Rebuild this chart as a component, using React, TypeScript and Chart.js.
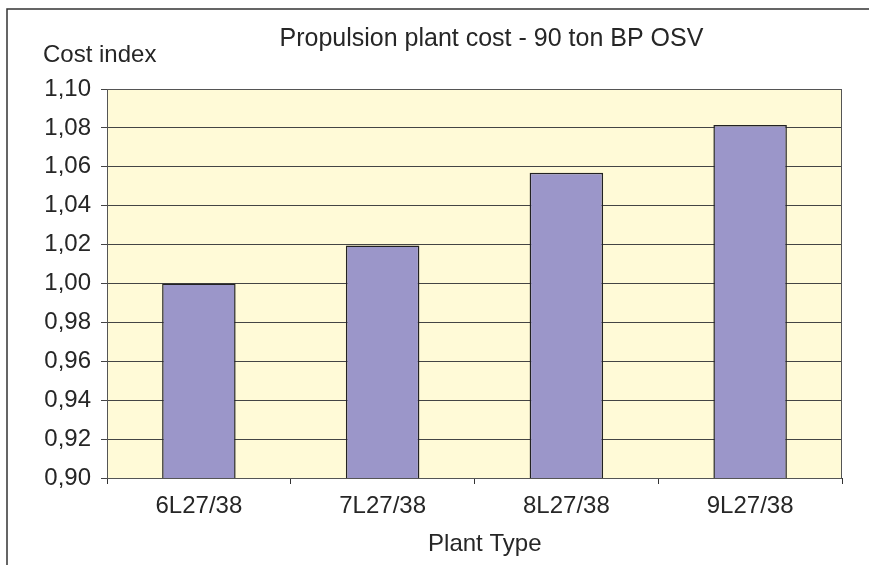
import React, { useEffect, useRef } from "react";
import { Chart, registerables } from "chart.js";

Chart.register(...registerables);

const categories = ["6L27/38", "7L27/38", "8L27/38", "9L27/38"];
const costIndex = [1.0, 1.0195, 1.057, 1.0815];
const chartTitle = "Propulsion plant cost - 90 ton BP OSV";
const yAxisTitle = "Cost index";
const xAxisTitle = "Plant Type";

const FONT = "'Liberation Sans', Arial, sans-serif";
const TEXT = "#262626";

const decorPlugin = {
  id: "decor",
  beforeDraw(chart: any) {
    const { ctx, chartArea } = chart;
    ctx.save();
    ctx.fillStyle = "#FFFAD7";
    ctx.fillRect(chartArea.left, chartArea.top, chartArea.right - chartArea.left, chartArea.bottom - chartArea.top);
    // outer frame (left and top)
    ctx.strokeStyle = "#333333";
    ctx.lineWidth = 1.5;
    ctx.beginPath();
    ctx.moveTo(7, 565);
    ctx.lineTo(7, 9);
    ctx.lineTo(869, 9);
    ctx.stroke();
    ctx.restore();
  },
  afterDraw(chart: any) {
    const { ctx, chartArea } = chart;
    ctx.save();
    ctx.strokeStyle = "#555555";
    ctx.lineWidth = 1;
    ctx.strokeRect(chartArea.left + 0.5, chartArea.top + 0.5, chartArea.right - chartArea.left - 1, chartArea.bottom - chartArea.top);
    ctx.fillStyle = TEXT;
    ctx.textBaseline = "alphabetic";
    ctx.font = `25px ${FONT}`;
    ctx.textAlign = "center";
    ctx.fillText(chartTitle, chartArea.left + (chartArea.right - chartArea.left) * 0.523, 46);
    ctx.font = `24px ${FONT}`;
    ctx.textAlign = "left";
    ctx.fillText(yAxisTitle, 43, 62);
    ctx.textAlign = "center";
    ctx.fillText(xAxisTitle, chartArea.left + (chartArea.right - chartArea.left) * 0.514, 551);
    ctx.restore();
  },
};

export default function App() {
  const ref = useRef<HTMLCanvasElement | null>(null);
  useEffect(() => {
    if (!ref.current) return;
    const chart = new Chart(ref.current, {
      type: "bar",
      data: {
        labels: categories,
        datasets: [
          {
            data: costIndex,
            backgroundColor: "#9B96C9",
            borderColor: "#222222",
            borderWidth: 1.5,
            borderSkipped: false,
            barPercentage: 0.4,
            categoryPercentage: 1,
          },
        ],
      },
      options: {
        animation: false,
        responsive: false,
        layout: { padding: { left: 0, top: 89, right: 27, bottom: 0 } },
        plugins: { legend: { display: false }, tooltip: { enabled: false }, title: { display: false } },
        scales: {
          x: {
            afterFit(scale: any) {
              scale.height = 87;
            },
            grid: { display: true, drawOnChartArea: false, offset: true, tickLength: 6, color: "#333333" },
            border: { display: true, color: "#333333" },
            ticks: { color: TEXT, font: { family: FONT, size: 24 }, padding: 8 },
          },
          y: {
            min: 0.9,
            max: 1.1,
            afterFit(scale: any) {
              scale.width = 107;
            },
            grid: { color: "#444444", lineWidth: 1, tickLength: 6 },
            border: { display: true, color: "#444444" },
            ticks: {
              stepSize: 0.02,
              color: TEXT,
              font: { family: FONT, size: 24 },
              padding: 10,
              callback: (v: any) => Number(v).toFixed(2).replace(".", ","),
            },
          },
        },
      },
      plugins: [decorPlugin],
    });
    return () => chart.destroy();
  }, []);
  return (
    <div style={{ position: "absolute", left: 0, top: 0, width: 869, height: 565 }}>
      <canvas ref={ref} width={869} height={565} style={{ display: "block" }} />
    </div>
  );
}
